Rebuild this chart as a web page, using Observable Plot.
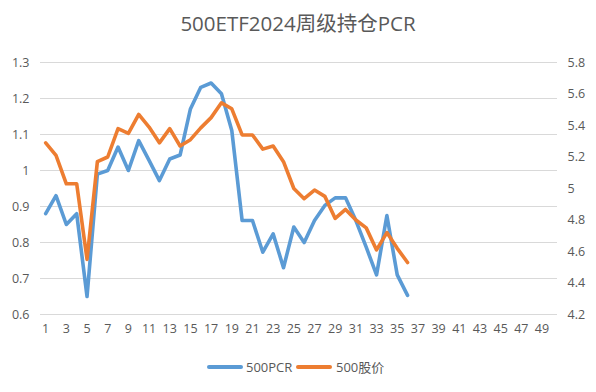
<!DOCTYPE html>
<html><head><meta charset="utf-8">
<script src="https://cdn.jsdelivr.net/npm/d3@7"></script>
<script src="https://cdn.jsdelivr.net/npm/@observablehq/plot@0.6"></script>
<style>
body{margin:0;background:#fff}
#wrap{position:relative;width:596px;height:392px;font-family:"Open Sans","Noto Sans CJK SC",sans-serif;color:#595959}
#chart{position:absolute;left:0;top:0}
#title{position:absolute;top:7px;left:0;width:596px;text-align:center;font-size:20.5px;font-family:"Open Sans","Noto Sans CJK SC",sans-serif;color:#595959}
#legend{position:absolute;top:358px;left:0;width:596px;height:20px;font-size:13px}
.sw{position:absolute;top:7px;height:4px;border-radius:2px;width:36px}
.lt{position:absolute;top:0;line-height:18px}
</style></head><body>
<div id="wrap">
<div id="chart"></div>
<div id="title">500ETF2024周级持仓PCR</div>
<div id="legend">
  <div class="sw" style="left:207px;background:#5B9BD5"></div><div class="lt" style="left:246px">500PCR</div>
  <div class="sw" style="left:296px;background:#ED7D31"></div><div class="lt" style="left:336px">500股价</div>
</div>
</div>
<script>
const weeks = [1,2,3,4,5,6,7,8,9,10,11,12,13,14,15,16,17,18,19,20,21,22,23,24,25,26,27,28,29,30,31,32,33,34,35,36];
const pcr = [0.88,0.93,0.85,0.88,0.65,0.99,1.0,1.065,1.0,1.083,1.028,0.972,1.032,1.043,1.171,1.231,1.243,1.213,1.111,0.861,0.861,0.773,0.824,0.73,0.843,0.80,0.861,0.903,0.924,0.924,0.861,0.787,0.71,0.875,0.71,0.653];
const price = [5.29,5.21,5.03,5.03,4.55,5.17,5.20,5.38,5.35,5.47,5.39,5.29,5.38,5.27,5.31,5.385,5.45,5.544,5.506,5.34,5.34,5.25,5.27,5.17,5.00,4.935,4.99,4.95,4.81,4.867,4.80,4.75,4.61,4.72,4.62,4.53];
const leftTicks = [0.6,0.7,0.8,0.9,1.0,1.1,1.2,1.3];
const rightTicks = [4.2,4.4,4.6,4.8,5.0,5.2,5.4,5.6,5.8];
const xTicks = [1,3,5,7,9,11,13,15,17,19,21,23,25,27,29,31,33,35,37,39,41,43,45,47,49];

const L = [0.6, 1.3], R = [4.2, 5.8];
const toLeft = p => L[0] + (p - R[0]) / (R[1] - R[0]) * (L[1] - L[0]);

const dataPcr = weeks.map((w, i) => ({w, v: pcr[i]}));
const dataPrice = weeks.map((w, i) => ({w, v: toLeft(price[i])}));

const chart = Plot.plot({
  width: 596, height: 392,
  marginLeft: 40, marginRight: 39, marginTop: 62, marginBottom: 78,
  style: {fontFamily: '"Open Sans", sans-serif', fontSize: "12.5px", color: "#595959", background: "#fff"},
  x: {domain: [0.5, 50.5], axis: null},
  y: {domain: L, axis: null},
  marks: [
    Plot.ruleY(leftTicks, {stroke: "#d9d9d9", strokeWidth: 1}),
    Plot.axisY({ticks: leftTicks, anchor: "left", label: null, tickSize: 0, tickPadding: 11, tickFormat: d => d === 1 ? "1" : d3.format(".1f")(d), fill: "#595959"}),
    Plot.axisY({ticks: rightTicks.map(toLeft), anchor: "right", label: null, tickSize: 0, tickPadding: 10, tickFormat: (d, i) => rightTicks[i] === 5 ? "5" : rightTicks[i].toFixed(1), fill: "#595959"}),
    Plot.axisX({ticks: xTicks, label: null, tickSize: 0, tickPadding: 10, tickFormat: d => String(d), fill: "#595959"}),
    Plot.line(dataPcr, {x: "w", y: "v", stroke: "#5B9BD5", strokeWidth: 3.6, strokeLinejoin: "round", strokeLinecap: "round"}),
    Plot.line(dataPrice, {x: "w", y: "v", stroke: "#ED7D31", strokeWidth: 3.6, strokeLinejoin: "round", strokeLinecap: "round"})
  ]
});
document.getElementById("chart").appendChild(chart);
</script>
</body></html>
